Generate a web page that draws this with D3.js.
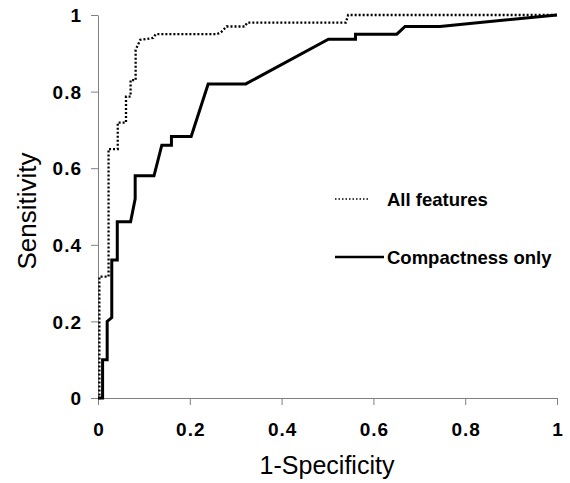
<!DOCTYPE html>
<html><head><meta charset="utf-8">
<script src="https://cdn.jsdelivr.net/npm/d3@7"></script>
<style>body{margin:0;background:#fff}svg{display:block}</style>
</head><body>
<svg id="c" width="570" height="483"></svg>
<script>
const xTicks = [0, 0.2, 0.4, 0.6, 0.8, 1];
const yTicks = [0, 0.2, 0.4, 0.6, 0.8, 1];
const seriesNames = ["All features", "Compactness only"];
// [1-specificity, sensitivity]
const allFeatures = [[0,0],[0.003,0],[0.003,0.317],[0.023,0.317],[0.023,0.65],[0.043,0.65],[0.043,0.719],[0.061,0.719],[0.061,0.787],[0.071,0.787],[0.071,0.83],[0.082,0.83],[0.082,0.909],[0.092,0.935],[0.12,0.94],[0.126,0.95],[0.259,0.95],[0.268,0.955],[0.28,0.97],[0.32,0.97],[0.325,0.98],[0.54,0.98],[0.545,1],[1,1]];
const compactness = [[0,0],[0.01,0],[0.01,0.10],[0.02,0.10],[0.02,0.20],[0.03,0.21],[0.03,0.36],[0.042,0.36],[0.042,0.46],[0.071,0.46],[0.081,0.52],[0.081,0.58],[0.122,0.58],[0.139,0.66],[0.16,0.66],[0.16,0.683],[0.203,0.683],[0.24,0.82],[0.322,0.82],[0.502,0.937],[0.561,0.937],[0.561,0.95],[0.651,0.95],[0.669,0.97],[0.745,0.97],[1,1]];

const svg = d3.select("#c");
const x = d3.scaleLinear().domain([0,1]).range([98,557]);
const y = d3.scaleLinear().domain([0,1]).range([398,15]);
const axisColor = "#808080";
const font = "Liberation Sans, Arial, sans-serif";

const gx = svg.append("g").attr("transform","translate(0,398)")
  .call(d3.axisBottom(x).tickValues(xTicks).tickFormat(d3.format("")).tickSize(7).tickSizeOuter(0));
const gy = svg.append("g").attr("transform","translate(98,0)")
  .call(d3.axisLeft(y).tickValues(yTicks).tickFormat(d3.format("")).tickSize(7).tickSizeOuter(0));
[gx,gy].forEach(g=>{
  g.select(".domain").attr("stroke",axisColor);
  g.selectAll(".tick line").attr("stroke",axisColor);
  g.selectAll("text").attr("fill","#000").style("font-family",font)
   .style("font-size","19px").style("font-weight","bold").style("letter-spacing","1px");
});
gx.selectAll("text").attr("y",38).attr("dy",0).attr("dx","0.5px");
gy.selectAll("text").attr("x",-16).attr("dy","0.35em");

const line = d3.line().x(d=>x(d[0])).y(d=>y(d[1]));
svg.append("path").datum(allFeatures).attr("d",line).attr("fill","none")
  .attr("stroke","#000").attr("stroke-width",2.3).attr("stroke-dasharray","2,2");
svg.append("path").datum(compactness).attr("d",line).attr("fill","none")
  .attr("stroke","#000").attr("stroke-width",3).attr("stroke-linejoin","miter");

// legend
const lg = svg.append("g");
lg.append("line").attr("x1",335).attr("x2",370).attr("y1",199).attr("y2",199)
  .attr("stroke","#000").attr("stroke-width",1.5).attr("stroke-dasharray","1.5,2");
lg.append("text").attr("x",387).attr("y",206).text(seriesNames[0]);
lg.append("line").attr("x1",335).attr("x2",384).attr("y1",257).attr("y2",257)
  .attr("stroke","#000").attr("stroke-width",2.5);
lg.append("text").attr("x",387).attr("y",264).text(seriesNames[1]);
lg.selectAll("text").style("font-family",font)
  .style("font-size","18.5px").style("font-weight","bold").attr("fill","#000");

svg.append("text").attr("x",327).attr("y",474).attr("text-anchor","middle")
  .style("font-family",font).style("font-size","25px")
  .text("1-Specificity");
svg.append("text").attr("transform","translate(36,211) rotate(-90)").attr("text-anchor","middle")
  .style("font-family",font).style("font-size","26px")
  .text("Sensitivity");
</script>
</body></html>
